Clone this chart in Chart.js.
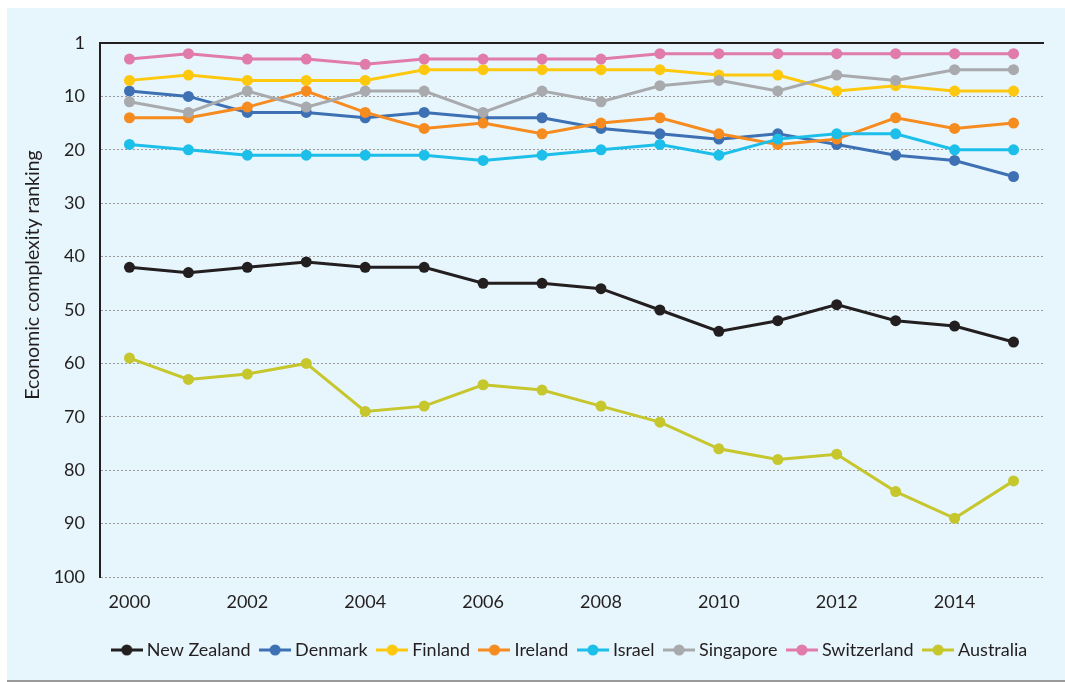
<!DOCTYPE html>
<html>
<head>
<meta charset="utf-8">
<script src="https://cdn.jsdelivr.net/npm/chart.js@4.4.1/dist/chart.umd.min.js"></script>
<style>
  html, body { margin: 0; padding: 0; background: #ffffff; }
  #wrap { position: absolute; left: 7px; top: 8px; width: 1058px; height: 672px; background: #e7f5fc; border-bottom: 2px solid #9a9a9a; }
  canvas { display: block; }
</style>
</head>
<body>
<div id="wrap"><canvas id="c" width="1058" height="672"></canvas></div>
<script>
const years = ['2000','2001','2002','2003','2004','2005','2006','2007','2008','2009','2010','2011','2012','2013','2014','2015'];
const yTickValues = [0,10,20,30,40,50,60,70,80,90,100];
const seriesNames = ['New Zealand','Denmark','Finland','Ireland','Israel','Singapore','Switzerland','Australia'];
const seriesColors = ['#231f20','#3e70b4','#fec80e','#f68b1f','#1cbfe9','#a9aaad','#e07bac','#c6c62d'];

const newZealand  = [42,43,42,41,42,42,45,45,46,50,54,52,49,52,53,56];
const denmark     = [9,10,13,13,14,13,14,14,16,17,18,17,19,21,22,25];
const finland     = [7,6,7,7,7,5,5,5,5,5,6,6,9,8,9,9];
const ireland     = [14,14,12,9,13,16,15,17,15,14,17,19,18,14,16,15];
const israel      = [19,20,21,21,21,21,22,21,20,19,21,18,17,17,20,20];
const singapore   = [11,13,9,12,9,9,13,9,11,8,7,9,6,7,5,5];
const switzerland = [3,2,3,3,4,3,3,3,3,2,2,2,2,2,2,2];
const australia   = [59,63,62,60,69,68,64,65,68,71,76,78,77,84,89,82];

const seriesData = [newZealand, denmark, finland, ireland, israel, singapore, switzerland, australia];

const FONT = 'Lato, "Open Sans", sans-serif';
const TEXT = '#231f20';
const Y_TITLE = 'Economic complexity ranking';

function legendIcon(color) {
  const c = document.createElement('canvas');
  c.width = 32; c.height = 14;
  const g = c.getContext('2d');
  g.strokeStyle = color; g.lineWidth = 3;
  g.beginPath(); g.moveTo(0, 7); g.lineTo(32, 7); g.stroke();
  g.fillStyle = color;
  g.beginPath(); g.arc(16, 7, 5.5, 0, Math.PI * 2); g.fill();
  return c;
}
const icons = seriesColors.map(legendIcon);

const datasets = seriesNames.map((name, i) => ({
  label: name,
  data: seriesData[i],
  borderColor: seriesColors[i],
  backgroundColor: seriesColors[i],
  pointBackgroundColor: seriesColors[i],
  pointBorderWidth: 0,
  pointRadius: 5.5,
  pointHoverRadius: 5.5,
  borderWidth: 3,
  tension: 0,
  fill: false,
  order: seriesNames.length - i
}));

new Chart(document.getElementById('c'), {
  type: 'line',
  data: { labels: years, datasets: datasets },
  options: {
    responsive: false,
    animation: false,
    layout: { padding: { top: 35, right: 22, bottom: 11, left: 0 } },
    plugins: {
      tooltip: { enabled: false },
      legend: {
        position: 'bottom',
        fullSize: false,
        labels: {
          usePointStyle: true,
          pointStyleWidth: 22,
          padding: 13.5,
          color: TEXT,
          font: { family: FONT, size: 18 },
          generateLabels: (chart) => chart.data.datasets.map((ds, i) => ({
            text: ds.label,
            fillStyle: ds.borderColor,
            strokeStyle: ds.borderColor,
            lineWidth: 0,
            pointStyle: icons[i],
            fontColor: TEXT,
            hidden: false,
            datasetIndex: i
          }))
        }
      }
    },
    scales: {
      x: {
        type: 'category',
        position: 'bottom',
        offset: true,
        grid: { display: false, drawTicks: false },
        border: { display: false },
        ticks: {
          autoSkip: false,
          maxRotation: 0,
          padding: 14,
          color: TEXT,
          font: { family: FONT, size: 18 },
          callback: (v, i) => (i % 2 === 0 ? years[i] : '')
        },
        afterFit: (s) => { s.height = 50.5; }
      },
      x2: {
        type: 'category',
        position: 'top',
        labels: years,
        offset: true,
        grid: { display: false, drawTicks: false },
        ticks: { display: false },
        border: { display: true, color: TEXT, width: 2 }
      },
      y: {
        reverse: true,
        min: 0,
        max: 100,
        afterBuildTicks: (s) => { s.ticks = yTickValues.map(v => ({ value: v })); },
        grid: { color: '#9a9a9a', lineWidth: 1, drawTicks: false },
        border: { display: true, color: TEXT, width: 2, dash: [2, 2] },
        ticks: {
          padding: 15,
          color: TEXT,
          font: { family: FONT, size: 18 },
          callback: (v) => (v === 0 ? '1' : String(v))
        },
        title: {
          display: true,
          text: '\u00a0'.repeat(14) + Y_TITLE,
          color: TEXT,
          font: { family: FONT, size: 19.5 },
          padding: { top: 14.3, bottom: 0 }
        },
        afterFit: (s) => { s.width = 93; }
      }
    }
  }
});
</script>
</body>
</html>
